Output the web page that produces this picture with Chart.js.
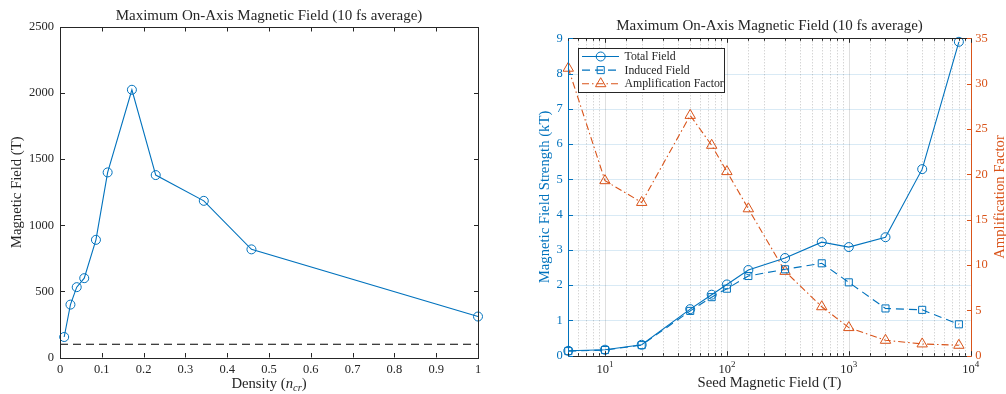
<!DOCTYPE html>
<html>
<head>
<meta charset="utf-8">
<script src="https://cdn.jsdelivr.net/npm/chart.js@4"></script>
<style>
  html, body { margin: 0; padding: 0; background: #fff; }
  .panel { position: absolute; top: 0; width: 503px; height: 394px; }
</style>
</head>
<body>
<div class="panel" style="left:0"><canvas id="densityChart"></canvas></div>
<div class="panel" style="left:503px"><canvas id="seedChart"></canvas></div>
<script>
// left panel: peak field vs plasma density
const densities = [0.01, 0.025, 0.04, 0.058, 0.086, 0.114, 0.172, 0.229, 0.344, 0.458, 1.0];
const peakField = [155, 400, 532, 600, 890, 1400, 2025, 1380, 1185, 818, 310];
const thresholdX = [0, 1];
const thresholdField = [100, 100];

// right panel: field vs seed field
const seedField = [5, 10, 20, 50, 75, 100, 150, 300, 600, 1000, 2000, 4000, 8000];
const totalField = [0.14, 0.17, 0.31, 1.32, 1.73, 2.02, 2.43, 2.77, 3.22, 3.08, 3.36, 5.29, 8.9];
const inducedField = [0.13, 0.16, 0.3, 1.27, 1.66, 1.9, 2.26, 2.45, 2.62, 2.08, 1.34, 1.3, 0.89];
const amplification = [31.7, 19.3, 16.9, 26.5, 23.2, 20.3, 16.2, 9.3, 5.4, 3.1, 1.7, 1.3, 1.15];

const chartTitle = 'Maximum On-Axis Magnetic Field (10 fs average)';
const seriesNames = ['Total Field', 'Induced Field', 'Amplification Factor'];

const FONT = "'Liberation Serif', 'Times New Roman', serif";
const BLUE = '#0072BD';
const ORANGE = '#D95319';
const AXIS = '#262626';

const isDecade = (v) => {
  const e = Math.log10(v);
  return Math.abs(e - Math.round(e)) < 1e-9;
};
const px = (v) => Math.round(v) + 0.5;

function xy(xs, ys) {
  return xs.map((x, i) => ({ x: x, y: ys[i] }));
}

function drawTitle(ctx, area, y) {
  ctx.save();
  ctx.fillStyle = AXIS;
  ctx.font = `15px ${FONT}`;
  ctx.textAlign = 'center';
  ctx.textBaseline = 'middle';
  ctx.fillText(chartTitle, (area.left + area.right) / 2, y);
  ctx.restore();
}

function drawXTicks(ctx, scale, area, color) {
  ctx.save();
  ctx.strokeStyle = color;
  ctx.lineWidth = 1;
  scale.ticks.forEach((t) => {
    const x = px(scale.getPixelForValue(t.value));
    const len = scale.type === 'logarithmic' && !isDecade(t.value) ? 2.5 : 4.5;
    ctx.beginPath();
    ctx.moveTo(x, area.bottom);
    ctx.lineTo(x, area.bottom - len);
    ctx.moveTo(x, area.top);
    ctx.lineTo(x, area.top + len);
    ctx.stroke();
  });
  ctx.restore();
}

function drawYTicks(ctx, scale, edges, color) {
  ctx.save();
  ctx.strokeStyle = color;
  ctx.lineWidth = 1;
  scale.ticks.forEach((t) => {
    const y = px(scale.getPixelForValue(t.value));
    edges.forEach(([x, dir]) => {
      ctx.beginPath();
      ctx.moveTo(x, y);
      ctx.lineTo(x + dir * 4.5, y);
      ctx.stroke();
    });
  });
  ctx.restore();
}

function line(ctx, x1, y1, x2, y2, color) {
  ctx.strokeStyle = color;
  ctx.beginPath();
  ctx.moveTo(x1, y1);
  ctx.lineTo(x2, y2);
  ctx.stroke();
}

// draws a run of [text, font, dy] pieces centred on x
function drawPieces(ctx, parts, cx, y) {
  let total = 0;
  parts.forEach((p) => {
    ctx.font = p[1];
    total += ctx.measureText(p[0]).width;
  });
  let x = cx - total / 2;
  parts.forEach((p) => {
    ctx.font = p[1];
    ctx.fillText(p[0], x, y + p[2]);
    x += ctx.measureText(p[0]).width;
  });
}

const densityFrame = {
  id: 'densityFrame',
  afterDraw(chart) {
    const { ctx, chartArea: a, scales } = chart;
    drawTitle(ctx, a, 15.7);
    ctx.save();
    ctx.lineWidth = 1;
    ctx.strokeStyle = AXIS;
    ctx.strokeRect(px(a.left), px(a.top), Math.round(a.right - a.left), Math.round(a.bottom - a.top));
    ctx.restore();
    drawXTicks(ctx, scales.x, a, AXIS);
    drawYTicks(ctx, scales.y, [[px(a.left), 1], [px(a.right), -1]], AXIS);

    // x label: Density (n_cr)
    ctx.save();
    ctx.fillStyle = AXIS;
    ctx.textBaseline = 'alphabetic';
    drawPieces(ctx, [
      ['Density (', `14.7px ${FONT}`, 0],
      ['n', `italic 14.7px ${FONT}`, 0],
      ['cr', `italic 10.5px ${FONT}`, 3],
      [')', `14.7px ${FONT}`, 0],
    ], (a.left + a.right) / 2, 388);
    ctx.restore();
  },
};

const seedFrame = {
  id: 'seedFrame',
  beforeDatasetsDraw(chart) {
    const { ctx, chartArea: a, scales } = chart;
    ctx.save();
    ctx.lineWidth = 1;
    scales.y.ticks.forEach((t) => {
      if (t.value === 0 || t.value === 9) return;
      const y = px(scales.y.getPixelForValue(t.value));
      line(ctx, a.left, y, a.right, y, 'rgba(0,114,189,0.15)');
    });
    scales.x.ticks.forEach((t) => {
      const x = px(scales.x.getPixelForValue(t.value));
      if (x <= a.left + 1 || x >= a.right - 1) return;
      if (isDecade(t.value)) {
        ctx.setLineDash([]);
        line(ctx, x, a.top, x, a.bottom, 'rgba(38,38,38,0.15)');
      } else {
        ctx.setLineDash([1, 2]);
        line(ctx, x, a.top, x, a.bottom, 'rgba(38,38,38,0.28)');
      }
    });
    ctx.restore();
  },
  afterDraw(chart) {
    const { ctx, chartArea: a, scales } = chart;
    drawTitle(ctx, a, 26);
    const l = px(a.left), r = px(a.right), t = px(a.top), b = px(a.bottom);
    ctx.save();
    ctx.lineWidth = 1;
    line(ctx, l, t, r, t, AXIS);
    line(ctx, l, b, r, b, AXIS);
    line(ctx, l, t, l, b, BLUE);
    line(ctx, r, t, r, b, ORANGE);
    ctx.restore();
    drawXTicks(ctx, scales.x, a, AXIS);
    drawYTicks(ctx, scales.y, [[l, 1]], BLUE);
    drawYTicks(ctx, scales.y1, [[r, -1]], ORANGE);

    // decade labels 10^n with a raised exponent
    ctx.save();
    ctx.fillStyle = AXIS;
    ctx.textBaseline = 'alphabetic';
    scales.x.ticks.forEach((tk) => {
      if (!isDecade(tk.value)) return;
      const x = scales.x.getPixelForValue(tk.value);
      drawPieces(ctx, [
        ['10', `12.5px ${FONT}`, 0],
        [String(Math.round(Math.log10(tk.value))), `9px ${FONT}`, -6],
      ], x, 373);
    });
    ctx.restore();

    // right axis label reads bottom to top
    ctx.save();
    ctx.translate(497, (a.top + a.bottom) / 2);
    ctx.rotate(-Math.PI / 2);
    ctx.fillStyle = ORANGE;
    ctx.font = `14.7px ${FONT}`;
    ctx.textAlign = 'center';
    ctx.textBaseline = 'middle';
    ctx.fillText('Amplification Factor', 0, 0);
    ctx.restore();

    // legend box inside the axes
    const lx = 75, ly = 48, lw = 146, lh = 44;
    ctx.save();
    ctx.fillStyle = '#fff';
    ctx.fillRect(lx, ly, lw, lh);
    ctx.lineWidth = 1;
    ctx.strokeStyle = AXIS;
    ctx.strokeRect(lx + 0.5, ly + 0.5, lw, lh);
    chart.data.datasets.forEach((ds, i) => {
      const y = ly + 8.5 + i * 13.6;
      ctx.save();
      ctx.lineWidth = ds.borderWidth;
      ctx.setLineDash(ds.borderDash || []);
      line(ctx, lx + 4, y, lx + 41, y, ds.borderColor);
      ctx.restore();
      ctx.strokeStyle = ds.pointBorderColor;
      ctx.fillStyle = 'rgba(0,0,0,0)';
      Chart.helpers.drawPoint(ctx, {
        pointStyle: ds.pointStyle,
        radius: ds.pointRadius,
        borderWidth: ds.pointBorderWidth,
        rotation: 0,
      }, lx + 22.7, y);
      ctx.fillStyle = AXIS;
      ctx.font = `11.8px ${FONT}`;
      ctx.textBaseline = 'middle';
      ctx.fillText(ds.label, lx + 46.5, y + 0.5);
    });
    ctx.restore();
  },
};

const tickFont = { family: FONT, size: 12.5 };
const titleFont = { family: FONT, size: 14.7 };

new Chart(document.getElementById('densityChart'), {
  type: 'line',
  data: {
    datasets: [
      {
        label: 'Peak field',
        data: xy(densities, peakField),
        borderColor: BLUE,
        borderWidth: 1.1,
        pointStyle: 'circle',
        pointRadius: 4.5,
        pointBorderWidth: 1,
        pointBorderColor: BLUE,
        pointBackgroundColor: 'rgba(0,0,0,0)',
        clip: false,
      },
      {
        label: 'Seed',
        data: xy(thresholdX, thresholdField),
        borderColor: '#000',
        borderWidth: 1.1,
        borderDash: [8, 5],
        pointRadius: 0,
      },
    ],
  },
  options: {
    responsive: true,
    maintainAspectRatio: false,
    animation: false,
    events: [],
    layout: { padding: { top: 27, right: 25, left: 0, bottom: 0 } },
    plugins: { legend: { display: false }, tooltip: { enabled: false } },
    scales: {
      x: {
        type: 'linear',
        min: 0,
        max: 1,
        grid: { display: false, drawTicks: false },
        border: { display: false },
        ticks: {
          stepSize: 0.1,
          padding: 5,
          font: tickFont,
          color: AXIS,
          maxRotation: 0,
          callback: (v) => String(Number(v.toFixed(1))),
        },
        afterFit: (s) => { s.height = 36.5; },
      },
      y: {
        min: 0,
        max: 2500,
        grid: { display: false, drawTicks: false },
        border: { display: false },
        ticks: {
          stepSize: 500,
          padding: 6,
          font: tickFont,
          color: AXIS,
          callback: (v) => String(v),
        },
        title: {
          display: true,
          text: 'Magnetic Field (T)',
          font: titleFont,
          color: AXIS,
          padding: { top: 7.9, bottom: 0 },
        },
        afterFit: (s) => { s.width = 60; },
      },
    },
  },
  plugins: [densityFrame],
});

new Chart(document.getElementById('seedChart'), {
  type: 'line',
  data: {
    datasets: [
      {
        label: seriesNames[0],
        data: xy(seedField, totalField),
        yAxisID: 'y',
        borderColor: BLUE,
        borderWidth: 1.1,
        pointStyle: 'circle',
        pointRadius: 4.5,
        pointBorderWidth: 1,
        pointBorderColor: BLUE,
        pointBackgroundColor: 'rgba(0,0,0,0)',
        clip: false,
      },
      {
        label: seriesNames[1],
        data: xy(seedField, inducedField),
        yAxisID: 'y',
        borderColor: BLUE,
        borderWidth: 1.1,
        borderDash: [8, 5],
        pointStyle: 'rect',
        pointRadius: 5,
        pointBorderWidth: 1,
        pointBorderColor: BLUE,
        pointBackgroundColor: 'rgba(0,0,0,0)',
        clip: false,
      },
      {
        label: seriesNames[2],
        data: xy(seedField, amplification),
        yAxisID: 'y1',
        borderColor: ORANGE,
        borderWidth: 1.1,
        borderDash: [7, 3, 1.5, 3],
        pointStyle: 'triangle',
        pointRadius: 6,
        pointBorderWidth: 1,
        pointBorderColor: ORANGE,
        pointBackgroundColor: 'rgba(0,0,0,0)',
        clip: false,
      },
    ],
  },
  options: {
    responsive: true,
    maintainAspectRatio: false,
    animation: false,
    events: [],
    layout: { padding: { top: 38.3, right: 0, left: 0, bottom: 0 } },
    plugins: { legend: { display: false }, tooltip: { enabled: false } },
    scales: {
      x: {
        type: 'logarithmic',
        min: 5,
        max: 10000,
        grid: { display: false, drawTicks: false },
        border: { display: false },
        ticks: {
          autoSkip: false,
          maxRotation: 0,
          padding: 5,
          font: tickFont,
          color: AXIS,
          callback: () => '',
        },
        title: {
          display: true,
          text: 'Seed Magnetic Field (T)',
          font: titleFont,
          color: AXIS,
          padding: { top: 0, bottom: 1.7 },
        },
        afterFit: (s) => { s.height = 38.3; },
      },
      y: {
        position: 'left',
        min: 0,
        max: 9,
        grid: { display: false, drawTicks: false },
        border: { display: false },
        ticks: { stepSize: 1, padding: 5.5, font: tickFont, color: BLUE },
        title: {
          display: true,
          text: 'Magnetic Field Strength (kT)',
          font: titleFont,
          color: BLUE,
          padding: { top: 33.2, bottom: 0 },
        },
        afterFit: (s) => { s.width = 65.3; },
      },
      y1: {
        position: 'right',
        min: 0,
        max: 35,
        grid: { display: false, drawTicks: false },
        border: { display: false },
        ticks: { stepSize: 5, padding: 4.5, font: tickFont, color: ORANGE },
        afterFit: (s) => { s.width = 35.3; },
      },
    },
  },
  plugins: [seedFrame],
});
</script>
</body>
</html>
